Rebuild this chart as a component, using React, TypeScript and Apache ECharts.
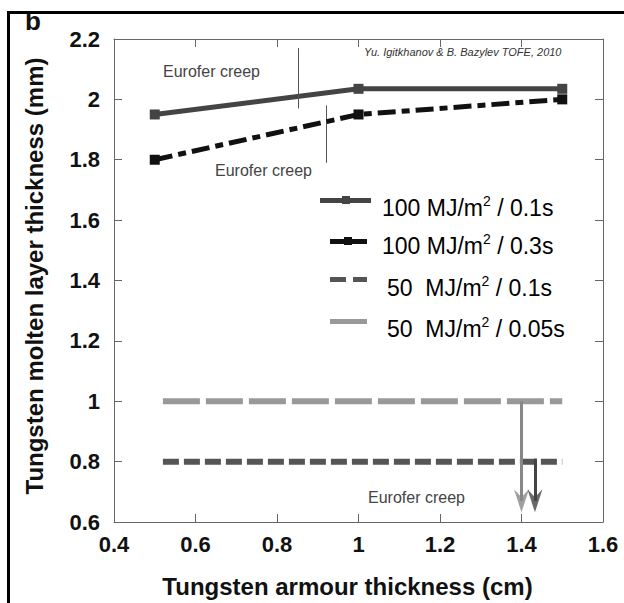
import React, { useEffect, useRef } from "react";
import * as echarts from "echarts";

const FONT = "'Liberation Sans', Arial, Helvetica, sans-serif";

// data
const xTicks = [0.4, 0.6, 0.8, 1.0, 1.2, 1.4, 1.6];
const armourX = [0.5, 1.0, 1.5];
const melt100_01 = [1.95, 2.035, 2.035];
const melt100_03 = [1.8, 1.95, 2.0];
const armourX50 = [0.52, 1.5];
const melt50_01 = [0.8, 0.8];
const melt50_005 = [1.0, 1.0];
const seriesNames = [
  "100 MJ/m2 / 0.1s",
  "100 MJ/m2 / 0.3s",
  "50 MJ/m2 / 0.1s",
  "50 MJ/m2 / 0.05s",
];
// creep limit markers (x, yTop, yBottom)
const creepLine1 = [0.853, 2.17, 1.97];
const creepLine2 = [0.92, 1.98, 1.79];
// arrows (x, yStart, yHeadCentre)
const arrow50_005 = [1.4, 1.0, 0.67];
const arrow50_01 = [1.433, 0.81, 0.67];

const pair = (xs: number[], ys: number[]) => xs.map((x, i) => [x, ys[i]]);

export default function App() {
  const ref = useRef<HTMLDivElement>(null);
  useEffect(() => {
    if (!ref.current) return;
    const chart = echarts.init(ref.current, null, { renderer: "svg" });
    const axisLine = { show: true, lineStyle: { color: "#666", width: 1 } };
    const tickStyle = { inside: true, length: 8, lineStyle: { color: "#666", width: 1 } };
    const labelStyle = { fontFamily: FONT, fontWeight: "bold" as const, fontSize: 22, color: "#111" };
    const arrowHead = "path://M8,23 L16,0 L8,8 L0,0 Z";

    const legendRow = (y: number, x: number, name: string, color: string) => {
      const m = name.match(/^(.*MJ\/m)2(.*)$/);
      const pre = m ? m[1] : name;
      const post = m ? m[2] : "";
      return {
        type: "text",
        x,
        y,
        style: {
          text: `{a|${pre.replace("50 MJ", "50  MJ")}}{s|2}{a|${post}}`,
          verticalAlign: "middle",
          align: "left",
          rich: {
            a: { fontFamily: FONT, fontSize: 23, color, lineHeight: 28 },
            s: { fontFamily: FONT, fontSize: 14, color, lineHeight: 14, verticalAlign: "top" },
          },
        },
      };
    };

    const creepText = (x: number, y: number) => ({
      type: "text",
      x,
      y,
      style: { text: "Eurofer creep", fontFamily: FONT, fontSize: 16, fill: "#444", verticalAlign: "middle" },
    });

    chart.setOption({
      animation: false,
      grid: { left: 114, right: 21, top: 39, bottom: 80 },
      xAxis: [
        {
          type: "value",
          min: 0.4,
          max: 1.6,
          interval: 0.2,
          axisLine,
          axisTick: tickStyle,
          splitLine: { show: false },
          axisLabel: {
            ...labelStyle,
            margin: 11,
            formatter: (v: number) => (xTicks.some((t) => Math.abs(t - v) < 1e-9) ? String(+v.toFixed(1)) : ""),
          },
          name: "Tungsten armour thickness (cm)",
          nameLocation: "middle",
          nameGap: 52,
          nameTextStyle: { fontFamily: FONT, fontWeight: "bold", fontSize: 24, color: "#111", padding: [0, 22, 0, 0] },
        },
        {
          type: "value",
          position: "top",
          min: 0.4,
          max: 1.6,
          interval: 0.2,
          axisLine,
          axisTick: tickStyle,
          axisLabel: { show: false },
          splitLine: { show: false },
        },
      ],
      yAxis: [
        {
          type: "value",
          min: 0.6,
          max: 2.2,
          interval: 0.2,
          axisLine,
          axisTick: tickStyle,
          splitLine: { show: false },
          axisLabel: { ...labelStyle, margin: 14, formatter: (v: number) => String(+v.toFixed(1)) },
        },
        {
          type: "value",
          position: "right",
          min: 0.6,
          max: 2.2,
          interval: 0.2,
          axisLine,
          axisTick: tickStyle,
          axisLabel: { show: false },
          splitLine: { show: false },
        },
      ],
      series: [
        {
          name: seriesNames[3],
          type: "line",
          data: pair(armourX50, melt50_005),
          symbol: "none",
          lineStyle: { color: "#999", width: 6, type: [37, 6] },
          z: 2,
          silent: true,
          markLine: {
            silent: true,
            symbol: ["none", "none"],
            label: { show: false },
            lineStyle: { color: "#888", width: 3, type: "solid" },
            data: [[{ coord: [arrow50_005[0], arrow50_005[1]] }, { coord: [arrow50_005[0], arrow50_005[2]] }]],
          },
        },
        {
          name: seriesNames[2],
          type: "line",
          data: pair(armourX50, melt50_01),
          symbol: "none",
          lineStyle: { color: "#555", width: 6, type: [16, 5] },
          z: 3,
          silent: true,
          markLine: {
            silent: true,
            symbol: ["none", "none"],
            label: { show: false },
            lineStyle: { color: "#444", width: 3, type: "solid" },
            data: [[{ coord: [arrow50_01[0], arrow50_01[1]] }, { coord: [arrow50_01[0], arrow50_01[2]] }]],
          },
        },
        {
          name: "arrowheads",
          type: "scatter",
          symbol: arrowHead,
          symbolSize: [15, 23],
          z: 6,
          silent: true,
          data: [
            { value: [arrow50_005[0], arrow50_005[2]], itemStyle: { color: "#888" } },
            { value: [arrow50_01[0], arrow50_01[2]], itemStyle: { color: "#444" } },
          ],
        },
        {
          name: seriesNames[0],
          type: "line",
          data: pair(armourX, melt100_01),
          symbol: "rect",
          symbolSize: 10,
          itemStyle: { color: "#444" },
          lineStyle: { color: "#444", width: 5, type: "solid" },
          z: 4,
          silent: true,
          markLine: {
            silent: true,
            symbol: ["none", "none"],
            label: { show: false },
            lineStyle: { color: "#555", width: 1, type: "solid" },
            data: [
              [{ coord: [creepLine1[0], creepLine1[1]] }, { coord: [creepLine1[0], creepLine1[2]] }],
              [{ coord: [creepLine2[0], creepLine2[1]] }, { coord: [creepLine2[0], creepLine2[2]] }],
            ],
          },
        },
        {
          name: seriesNames[1],
          type: "line",
          data: pair(armourX, melt100_03),
          symbol: "rect",
          symbolSize: 10,
          itemStyle: { color: "#111" },
          lineStyle: { color: "#111", width: 5, type: [18, 6, 8, 6] },
          z: 5,
          silent: true,
        },
      ],
      graphic: [
        {
          type: "text",
          x: 25,
          y: 34,
          z: 10,
          style: { text: "b", fontFamily: FONT, fontWeight: "bold", fontSize: 26, fill: "#111", verticalAlign: "bottom" },
        },
        // figure frame
        { type: "rect", z: 20, shape: { x: 8, y: 11, width: 616, height: 3 }, style: { fill: "#000" }, silent: true },
        { type: "rect", z: 20, shape: { x: 7, y: 11, width: 3, height: 592 }, style: { fill: "#000" }, silent: true },
        {
          type: "text",
          x: 34,
          y: 276,
          rotation: Math.PI / 2,
          style: {
            text: "Tungsten molten layer thickness (mm)",
            fontFamily: FONT,
            fontWeight: "bold",
            fontSize: 24,
            fill: "#111",
            align: "center",
            verticalAlign: "middle",
          },
        },
        {
          type: "text",
          x: 364,
          y: 52,
          style: {
            text: "Yu. Igitkhanov & B. Bazylev TOFE, 2010",
            fontFamily: FONT,
            fontStyle: "italic",
            fontSize: 11,
            fill: "#333",
            verticalAlign: "middle",
          },
        },
        creepText(163, 71),
        creepText(215, 170),
        creepText(368, 497),
        // legend icons
        { type: "rect", shape: { x: 320, y: 198, width: 51, height: 5 }, style: { fill: "#444" } },
        { type: "rect", shape: { x: 342, y: 196, width: 8, height: 8 }, style: { fill: "#444" } },
        { type: "rect", shape: { x: 330, y: 239, width: 37, height: 5 }, style: { fill: "#111" } },
        { type: "rect", shape: { x: 344, y: 237, width: 8, height: 8 }, style: { fill: "#111" } },
        { type: "rect", shape: { x: 330, y: 277, width: 16, height: 5 }, style: { fill: "#555" } },
        { type: "rect", shape: { x: 353, y: 277, width: 14, height: 5 }, style: { fill: "#555" } },
        { type: "rect", shape: { x: 330, y: 319, width: 37, height: 5 }, style: { fill: "#999" } },
        legendRow(208, 382, seriesNames[0], "#333"),
        legendRow(246, 382, seriesNames[1], "#111"),
        legendRow(288, 387, seriesNames[2], "#555"),
        legendRow(329, 387, seriesNames[3], "#888"),
      ],
    });
    return () => chart.dispose();
  }, []);
  return (
    <div
      ref={ref}
      style={{ position: "absolute", left: 0, top: 0, width: 624, height: 603, background: "#fff" }}
    />
  );
}
